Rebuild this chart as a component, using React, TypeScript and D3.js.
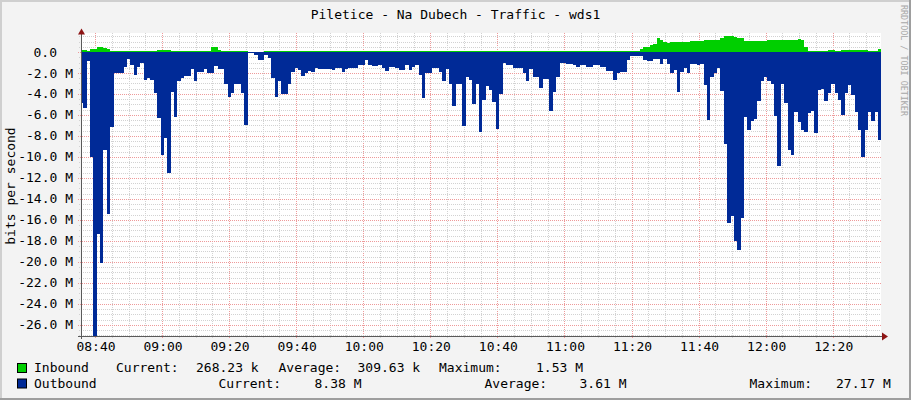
import React, { useEffect, useRef } from "react";
import * as d3 from "d3";

// one sample per minute, starting 08:35:32, values in Mbit/s
const outboundM = [
  4.9, 5.3, 0.9, 10.0, 27.17, 17.3, 20.1, 9.3, 15.4, 7.1,
  2.0, 2.0, 2.0, 1.4, 0.7, 1.2, 2.2, 1.4, 1.0, 2.7,
  2.5, 2.7, 3.9, 6.3, 9.8, 8.2, 11.5, 3.8, 6.2, 2.8,
  2.5, 2.3, 2.3, 1.6, 2.8, 1.9, 1.9, 1.6, 2.0, 2.0,
  1.3, 1.65, 1.65, 3.0, 4.25, 3.9, 3.0, 3.0, 3.9, 6.95,
  0.05, 0.05, 0.3, 0.8, 0.8, 0.3, 0.6, 2.5, 4.25, 2.8,
  4.0, 4.0, 3.0, 1.9, 1.5, 1.7, 2.3, 2.0, 1.8, 1.9,
  1.5, 1.6, 1.6, 1.6, 1.6, 1.7, 1.55, 1.55, 1.9, 1.6,
  1.5, 1.5, 1.5, 1.25, 1.25, 0.8, 1.25, 1.3, 1.3, 1.2,
  1.5, 1.8, 1.4, 1.4, 1.5, 1.7, 1.7, 1.25, 1.7, 1.4,
  1.25, 2.2, 4.4, 2.0, 2.0, 1.55, 1.55, 1.9, 2.8, 1.65,
  3.0, 5.1, 3.0, 3.0, 7.05, 2.35, 2.7, 5.0, 3.0, 7.6,
  4.6, 3.2, 3.6, 4.8, 7.3, 4.0, 1.0, 1.25, 1.25, 1.5,
  1.5, 1.5, 2.0, 2.8, 1.65, 2.35, 2.35, 3.4, 2.6, 2.6,
  5.6, 3.8, 2.35, 1.0, 1.0, 1.15, 1.15, 1.25, 1.4, 1.25,
  1.25, 1.4, 1.4, 1.25, 1.25, 1.4, 1.4, 1.8, 1.8, 2.7,
  2.0, 1.9, 1.9, 0.75, 0.4, 0.4, 0.4, 0.4, 0.8, 0.9,
  0.9, 0.7, 0.7, 1.1, 0.7, 1.1, 2.0, 1.7, 3.8, 1.9,
  1.5, 2.0, 1.1, 1.1, 1.25, 1.1, 3.15, 6.5, 2.35, 2.0,
  1.55, 3.7, 8.8, 16.3, 15.6, 18.0, 18.9, 15.8, 6.2, 7.4,
  6.6, 6.4, 4.7, 2.8, 2.35, 2.8, 3.0, 6.1, 10.9, 3.0,
  4.9, 9.3, 9.8, 5.7, 6.7, 7.4, 7.6, 5.8, 5.6, 7.7,
  3.6, 3.55, 4.7, 3.9, 3.05, 3.9, 4.6, 6.0, 3.9, 3.15,
  4.1, 5.7, 7.4, 10.0, 7.4, 5.7, 6.6, 5.7, 8.38,
];

const inboundM = [
  0.16, 0.16, 0.1, 0.3, 0.3, 0.48, 0.48, 0.4, 0.3, 0.1,
  0.08, 0.08, 0.08, 0.08, 0.08, 0.08, 0.12, 0.08, 0.08, 0.08,
  0.08, 0.08, 0.08, 0.15, 0.22, 0.15, 0.15, 0.08, 0.08, 0.08,
  0.08, 0.08, 0.08, 0.08, 0.12, 0.08, 0.08, 0.08, 0.08, 0.45,
  0.5, 0.15, 0.1, 0.1, 0.1, 0.1, 0.1, 0.1, 0.1, 0.08,
  0.02, 0.02, 0.02, 0.02, 0.02, 0.1, 0.1, 0.1, 0.1, 0.1,
  0.13, 0.13, 0.13, 0.05, 0.05, 0.05, 0.13, 0.05, 0.05, 0.05,
  0.05, 0.05, 0.05, 0.05, 0.05, 0.05, 0.05, 0.05, 0.05, 0.05,
  0.05, 0.05, 0.05, 0.05, 0.05, 0.13, 0.13, 0.05, 0.05, 0.05,
  0.05, 0.05, 0.05, 0.05, 0.05, 0.13, 0.05, 0.05, 0.05, 0.05,
  0.05, 0.13, 0.13, 0.13, 0.13, 0.13, 0.13, 0.13, 0.13, 0.05,
  0.13, 0.13, 0.13, 0.13, 0.13, 0.05, 0.05, 0.05, 0.13, 0.13,
  0.13, 0.05, 0.13, 0.13, 0.13, 0.05, 0.05, 0.05, 0.05, 0.05,
  0.05, 0.05, 0.05, 0.05, 0.05, 0.05, 0.05, 0.13, 0.05, 0.05,
  0.05, 0.13, 0.13, 0.05, 0.13, 0.05, 0.05, 0.05, 0.05, 0.05,
  0.05, 0.05, 0.05, 0.13, 0.05, 0.05, 0.05, 0.05, 0.13, 0.13,
  0.13, 0.13, 0.05, 0.05, 0.05, 0.05, 0.05, 0.25, 0.45, 0.5,
  0.65, 0.8, 1.3, 1.1, 0.95, 0.9, 0.95, 1.0, 1.0, 1.0,
  1.0, 1.0, 1.05, 1.05, 1.05, 1.05, 1.1, 1.1, 1.1, 1.1,
  1.1, 1.35, 1.5, 1.53, 1.5, 1.45, 1.35, 1.3, 1.05, 1.05,
  1.05, 1.05, 1.05, 1.05, 1.05, 1.15, 1.15, 1.15, 1.15, 1.15,
  1.15, 1.15, 1.15, 1.15, 1.2, 1.1, 0.5, 0.1, 0.05, 0.05,
  0.05, 0.05, 0.05, 0.15, 0.15, 0.1, 0.1, 0.2, 0.2, 0.2,
  0.2, 0.2, 0.2, 0.2, 0.2, 0.1, 0.1, 0.1, 0.27,
];

const yTicks = [0, -2, -4, -6, -8, -10, -12, -14, -16, -18, -20, -22, -24, -26];
const xTickLabels = ["08:40", "09:00", "09:20", "09:40", "10:00", "10:20", "10:40",
  "11:00", "11:20", "11:40", "12:00", "12:20"];

const title = "Piletice - Na Dubech - Traffic - wds1";
const yTitle = "bits per second";
const watermark = "RRDTOOL / TOBI OETIKER";

const seriesNames = ["Inbound", "Outbound"];
const seriesColors = ["#00cf00", "#002a97"];
const inboundStats = ["Current:", "268.23 k", "Average:", "309.63 k", "Maximum:", "1.53 M"];
const outboundStats = ["Current:", "8.38 M", "Average:", "3.61 M", "Maximum:", "27.17 M"];

const at = (h: number, m: number, s = 0, ms = 0) => new Date(2000, 0, 1, h, m, s, ms);
const firstSample = at(8, 35, 32);
const STEP = 60000;

const App: React.FC = () => {
  const svgRef = useRef(null);

  useEffect(() => {
    const svg = d3.select(svgRef.current);
    svg.selectAll("*").remove();
    const font = "'DejaVu Sans Mono', monospace";
    const left = 81, right = 881, top = 33, bottom = 336;

    const x = d3
      .scaleTime()
      .domain([at(8, 35, 49, 500), at(12, 34, 24)])
      .range([left, right]);
    const y = d3.scaleLinear().domain([-27.05, 1.81]).range([bottom, top]);

    // frame
    svg.append("rect").attr("width", 911).attr("height", 400).attr("fill", "#f3f3f3");
    svg.append("rect").attr("width", 911).attr("height", 2).attr("fill", "#cfcfcf");
    svg.append("rect").attr("width", 2).attr("height", 400).attr("fill", "#cfcfcf");
    svg.append("rect").attr("y", 398).attr("width", 911).attr("height", 2).attr("fill", "#9e9e9e");
    svg.append("rect").attr("x", 909).attr("width", 2).attr("height", 400).attr("fill", "#9e9e9e");

    svg
      .append("rect")
      .attr("x", left)
      .attr("y", top)
      .attr("width", right - left)
      .attr("height", bottom - top)
      .attr("fill", "#ffffff");

    // grid
    const grid = svg.append("g").attr("shape-rendering", "crispEdges");
    const minorX = d3.timeMinute.every(5)!.range(x.domain()[0], x.domain()[1]);
    minorX.forEach((t) => {
      const major = t.getMinutes() % 20 === 0;
      const px = Math.round(x(t)) + 0.5;
      grid
        .append("line")
        .attr("x1", px)
        .attr("x2", px)
        .attr("y1", top)
        .attr("y2", bottom + (major ? 3 : 2))
        .attr("stroke", major ? "#ee9a9a" : "#d2d2d2")
        .attr("stroke-dasharray", "1,1");
    });
    d3.range(-27, 1.6, 0.5).forEach((v) => {
      const major = Math.abs(v % 2) < 1e-9;
      const py = Math.round(y(v)) + 0.5;
      grid
        .append("line")
        .attr("x1", left - (major ? 3 : 2))
        .attr("x2", right)
        .attr("y1", py)
        .attr("y2", py)
        .attr("stroke", major ? "#ee9a9a" : "#d2d2d2")
        .attr("stroke-dasharray", "1,1");
    });

    // data
    const rows = outboundM.map((v, i) => ({
      t: new Date(firstSample.getTime() + i * STEP),
      out: v,
      inb: inboundM[i],
    }));
    const last = rows[rows.length - 1];
    rows.push({ t: new Date(last.t.getTime() + STEP), out: last.out, inb: last.inb });

    svg
      .append("clipPath")
      .attr("id", "plotclip")
      .append("rect")
      .attr("x", left + 1)
      .attr("y", top)
      .attr("width", right - left - 1)
      .attr("height", bottom - top);

    const plot = svg.append("g").attr("clip-path", "url(#plotclip)");
    const inArea = d3
      .area<(typeof rows)[0]>()
      .x((d) => x(d.t))
      .y0(y(0))
      .y1((d) => y(d.inb))
      .curve(d3.curveStepAfter);
    const outArea = d3
      .area<(typeof rows)[0]>()
      .x((d) => x(d.t))
      .y0(y(0))
      .y1((d) => y(-d.out))
      .curve(d3.curveStepAfter);
    plot
      .append("path")
      .datum(rows)
      .attr("d", inArea)
      .attr("fill", seriesColors[0])
      .attr("shape-rendering", "crispEdges");
    plot
      .append("path")
      .datum(rows)
      .attr("d", outArea)
      .attr("fill", seriesColors[1])
      .attr("shape-rendering", "crispEdges");

    // axes
    const axisColor = "#5a5a5a";
    svg
      .append("line")
      .attr("x1", left + 0.5)
      .attr("x2", left + 0.5)
      .attr("y1", top)
      .attr("y2", bottom + 3)
      .attr("stroke", axisColor);
    svg
      .append("line")
      .attr("x1", left - 3)
      .attr("x2", right + 2)
      .attr("y1", bottom + 0.5)
      .attr("y2", bottom + 0.5)
      .attr("stroke", axisColor);
    svg
      .append("polygon")
      .attr("points", `${left + 0.5},28.5 ${left - 3},34.5 ${left + 4},34.5`)
      .attr("fill", "#8e1515");
    svg
      .append("polygon")
      .attr("points", `882,332.5 888,336.5 882,340.5`)
      .attr("fill", "#8e1515");

    // tick labels
    yTicks.forEach((v) => {
      svg
        .append("text")
        .attr("x", v === 0 ? 57 : 73)
        .attr("y", y(v) + 4.5)
        .attr("text-anchor", "end")
        .attr("font-family", font)
        .attr("font-size", 13)
        .attr("fill", "#000")
        .text(v === 0 ? v.toFixed(1) : `${v.toFixed(1)} M`);
    });
    const parseHM = d3.timeParse("%H:%M");
    xTickLabels.forEach((lbl) => {
      const p = parseHM(lbl)!;
      const t = at(p.getHours(), p.getMinutes());
      svg
        .append("text")
        .attr("x", x(t) + 1)
        .attr("y", 351)
        .attr("text-anchor", "middle")
        .attr("font-family", font)
        .attr("font-size", 13)
        .attr("fill", "#000")
        .text(lbl);
    });

    // titles
    svg
      .append("text")
      .attr("x", 455.5)
      .attr("y", 19)
      .attr("text-anchor", "middle")
      .attr("font-family", font)
      .attr("font-size", 13)
      .attr("fill", "#000")
      .text(title);
    svg
      .append("text")
      .attr("transform", "translate(14.5,186) rotate(-90)")
      .attr("text-anchor", "middle")
      .attr("font-family", font)
      .attr("font-size", 13)
      .attr("fill", "#000")
      .text(yTitle);
    svg
      .append("text")
      .attr("transform", "translate(900.5,5) rotate(90)")
      .attr("font-family", font)
      .attr("font-size", 8.4)
      .attr("fill", "#a8a8a8")
      .text(watermark);

    // legend
    const legendRows = [
      { name: seriesNames[0], color: seriesColors[0], stats: inboundStats, base: 372,
        xs: [116, 196, 278.5, 357.5, 439, 536] },
      { name: seriesNames[1], color: seriesColors[1], stats: outboundStats, base: 387.5,
        xs: [218.5, 314.5, 484.5, 579.5, 749.5, 836] },
    ];
    legendRows.forEach((r) => {
      svg
        .append("rect")
        .attr("x", 17.5)
        .attr("y", r.base - 8.5)
        .attr("width", 9)
        .attr("height", 9)
        .attr("fill", r.color)
        .attr("stroke", "#000");
      svg
        .append("text")
        .attr("x", 34)
        .attr("y", r.base)
        .attr("font-family", font)
        .attr("font-size", 13)
        .attr("fill", "#000")
        .text(r.name);
      r.stats.forEach((s, i) => {
        svg
          .append("text")
          .attr("x", r.xs[i])
          .attr("y", r.base)
          .attr("font-family", font)
          .attr("font-size", 13)
          .attr("fill", "#000")
          .text(s);
      });
    });

    return () => {
      svg.selectAll("*").remove();
    };
  }, []);

  return (
    <svg
      ref={svgRef}
      width={911}
      height={400}
      style={{ position: "absolute", left: 0, top: 0, display: "block" }}
    />
  );
};

export default App;
